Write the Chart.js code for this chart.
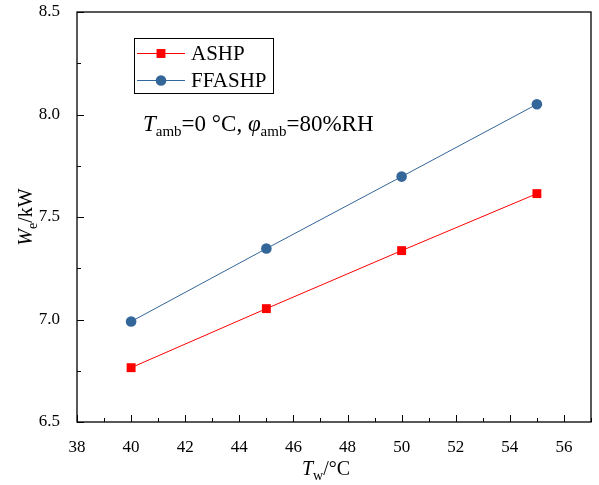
<!DOCTYPE html>
<html>
<head>
<meta charset="utf-8">
<script src="https://cdn.jsdelivr.net/npm/chart.js@4.4.0/dist/chart.umd.min.js"></script>
<style>
    body { margin: 0; background: #fff; font-family: 'Liberation Serif', serif; }
    #wrap { position: relative; width: 599px; height: 485px; }
    #xtitle {
        position: absolute; left: 256px; width: 140px; top: 458px;
        font-size: 20px; line-height: 20px; text-align: center; color: #000;
    }
    #xtitle sub { font-size: 14px; vertical-align: -5px; line-height: 0; }
</style>
</head>
<body>
<div id="wrap">
    <canvas id="myChart" width="599" height="485"></canvas>
    <div id="xtitle"><i>T</i><sub>w</sub>/°C</div>
</div>
<script>
// data
const waterTemps = [40, 45, 50, 55];
const ashpPower = [6.765, 7.053, 7.336, 7.614];
const ffashpPower = [6.990, 7.346, 7.697, 8.050];
const seriesNames = ['ASHP', 'FFASHP'];
const xTicks = [38, 40, 42, 44, 46, 48, 50, 52, 54, 56];
const yTicks = [6.5, 7.0, 7.5, 8.0, 8.5];

const serif = 'Liberation Serif';
const red = '#ff0000';
const blue = '#336699';

Chart.defaults.font.family = serif;

// text pieces: [text, size, italic, baselineShift]
function fontOf(p) {
    return (p[2] ? 'italic ' : '') + p[1] + 'px "' + serif + '"';
}
function runWidth(ctx, parts) {
    let w = 0;
    parts.forEach(p => {
        ctx.font = fontOf(p);
        w += ctx.measureText(p[0]).width;
    });
    return w;
}
function drawRun(ctx, parts, x, y) {
    parts.forEach(p => {
        ctx.font = fontOf(p);
        ctx.fillText(p[0], x, y + (p[3] || 0));
        x += ctx.measureText(p[0]).width;
    });
}

const framePlugin = {
    id: 'frame',
    afterDraw(chart) {
        const ctx = chart.ctx;
        const a = chart.chartArea;
        const xs = chart.scales.x, ys = chart.scales.y;
        ctx.save();
        ctx.strokeStyle = '#000';
        ctx.lineWidth = 1.3;
        ctx.strokeRect(a.left, a.top, a.right - a.left, a.bottom - a.top);

        // inward ticks
        ctx.lineWidth = 1;
        xs.ticks.forEach(t => {
            const px = Math.round(xs.getPixelForValue(t.value)) + 0.5;
            const len = t.value % 2 === 0 ? 7 : 4;
            ctx.beginPath();
            ctx.moveTo(px, a.bottom);
            ctx.lineTo(px, a.bottom - len);
            ctx.stroke();
        });
        ys.ticks.forEach(t => {
            const py = Math.round(ys.getPixelForValue(t.value)) + 0.5;
            const major = Math.abs(t.value * 2 - Math.round(t.value * 2)) < 1e-6;
            const len = major ? 7 : 4;
            ctx.beginPath();
            ctx.moveTo(a.left, py);
            ctx.lineTo(a.left + len, py);
            ctx.stroke();
        });

        ctx.fillStyle = '#000';
        ctx.textBaseline = 'alphabetic';
        ctx.textAlign = 'left';

        // y axis title
        const yt = [['W', 20, true], ['e', 14, false, 5], ['/kW', 20, false]];
        ctx.save();
        ctx.translate(32, (a.top + a.bottom) / 2);
        ctx.rotate(-Math.PI / 2);
        drawRun(ctx, yt, -runWidth(ctx, yt) / 2, 0);
        ctx.restore();

        // condition annotation
        drawRun(ctx, [
            ['T', 23, true], ['amb', 15, false, 5], ['=0 °C, ', 23, false],
            ['φ', 23, true], ['amb', 15, false, 5], ['=80%RH', 23, false]
        ], 143, 131);

        // legend box
        const lx = 134, ly = 38, lw = 139, lh = 55;
        ctx.lineWidth = 1;
        ctx.strokeRect(lx + 0.5, ly + 0.5, lw, lh);
        chart.data.datasets.forEach((ds, i) => {
            const y = ly + 15 + i * 27;
            ctx.strokeStyle = ds.borderColor;
            ctx.beginPath();
            ctx.moveTo(lx + 3, y + 0.5);
            ctx.lineTo(lx + 51, y + 0.5);
            ctx.stroke();
            ctx.fillStyle = ds.backgroundColor;
            Chart.helpers.drawPoint(ctx, {
                pointStyle: ds.pointStyle,
                radius: ds.pointRadius,
                borderWidth: 0
            }, lx + 27, y + 0.5);
            ctx.fillStyle = '#000';
            ctx.font = fontOf(['', 21, false]);
            ctx.fillText(ds.label, lx + 57, y + 7);
        });
        ctx.restore();
    }
};

const ctx = document.getElementById('myChart').getContext('2d');
window.myChart = new Chart(ctx, {
    type: 'line',
    data: {
        datasets: [{
            label: seriesNames[0],
            data: waterTemps.map((t, i) => ({ x: t, y: ashpPower[i] })),
            borderColor: red,
            backgroundColor: red,
            borderWidth: 1,
            pointStyle: 'rect',
            pointRadius: 6.3,
            pointBorderWidth: 0,
            tension: 0
        }, {
            label: seriesNames[1],
            data: waterTemps.map((t, i) => ({ x: t, y: ffashpPower[i] })),
            borderColor: blue,
            backgroundColor: blue,
            borderWidth: 1,
            pointStyle: 'circle',
            pointRadius: 5.3,
            pointBorderWidth: 0,
            tension: 0
        }]
    },
    options: {
        responsive: false,
        animation: false,
        layout: { padding: { top: 12, right: 8, left: 0, bottom: 0 } },
        plugins: { legend: { display: false }, tooltip: { enabled: false } },
        scales: {
            x: {
                type: 'linear',
                min: 38,
                max: 57,
                grid: { display: false },
                border: { display: false },
                afterFit: s => { s.height = 63; s.paddingLeft = 0; s.paddingRight = 0; },
                ticks: {
                    stepSize: 1,
                    autoSkip: false,
                    maxRotation: 0,
                    padding: 7,
                    color: '#000',
                    font: { size: 17 },
                    callback: v => xTicks.includes(v) ? String(v) : ''
                }
            },
            y: {
                min: 6.5,
                max: 8.5,
                grid: { display: false },
                border: { display: false },
                afterFit: s => { s.width = 77; s.paddingTop = 0; s.paddingBottom = 0; },
                ticks: {
                    stepSize: 0.25,
                    autoSkip: false,
                    padding: 9,
                    color: '#000',
                    font: { size: 17 },
                    callback: v => yTicks.some(t => Math.abs(t - v) < 1e-6) ? v.toFixed(1) : ''
                }
            }
        }
    },
    plugins: [framePlugin]
});

// redraw once the serif face is in use by the page
document.fonts.ready.then(() => window.myChart.update());
setTimeout(() => window.myChart.update(), 150);
</script>
</body>
</html>
